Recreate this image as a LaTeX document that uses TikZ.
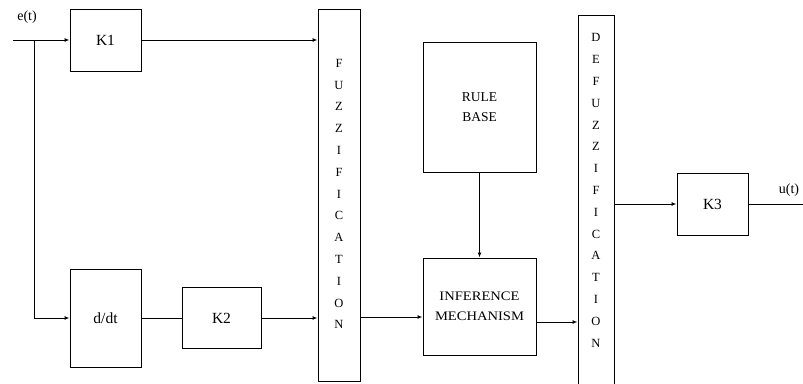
\documentclass[tikz,border=0pt]{standalone}
\usepackage{fontspec}
\setmainfont{Liberation Serif}
\usetikzlibrary{arrows.meta}
\tikzset{
  blk/.style={draw, line width=1pt, inner sep=0pt},
  arr/.style={line width=1pt, -{Latex[length=5pt,width=4pt]}},
  ln/.style={line width=1pt},
  vtxt/.style={align=center, font=\fontsize{12.5}{21.8}\selectfont, inner sep=0pt},
  lbl/.style={font=\fontsize{14}{16}\selectfont, inner sep=0pt},
  klbl/.style={font=\fontsize{15.5}{17}\selectfont}
}
\begin{document}
\begin{tikzpicture}[x=1pt,y=-1pt]
\useasboundingbox[fill=white] (0,0) rectangle (803,383);
% blocks
\node[blk, klbl, minimum width=71pt, minimum height=62pt] (k1) at (105.5,40) {K1};
\node[blk, klbl, minimum width=71pt, minimum height=98pt] (ddt) at (105.5,318) {d/dt};
\node[blk, klbl, minimum width=79pt, minimum height=61pt] (k2) at (221.5,318) {K2};
\node[blk, minimum width=42pt, minimum height=372pt] (fuz) at (339,195) {};
\node[vtxt] (fuztxt) at (339,194) {F\\U\\Z\\Z\\I\\F\\I\\C\\A\\T\\I\\O\\N};
\node[blk, minimum width=113pt, minimum height=130pt, align=center, font=\fontsize{13.5}{20}\selectfont] (rb) at (479.5,107) {RULE\\BASE};
\node[blk, minimum width=113pt, minimum height=97pt, align=center, font=\fontsize{13}{20}\selectfont] (inf) at (479.5,306.5) {\scalebox{1.12}[1]{INFERENCE}\\\scalebox{1.12}[1]{MECHANISM}};
\node[blk, minimum width=36pt, minimum height=385pt] (dfz) at (596,207.5) {};
\node[vtxt] (dfztxt) at (596,190.5) {D\\E\\F\\U\\Z\\Z\\I\\F\\I\\C\\A\\T\\I\\O\\N};
\node[blk, klbl, minimum width=71pt, minimum height=62pt] (k3) at (712.5,204) {K3};
% labels
\node[lbl] (et) at (27,17) {e(t)};
\node[lbl] (ut) at (789,190) {u(t)};
% connectors
\coordinate (in) at (13,40);
\coordinate (j) at (34,40);
\coordinate (out) at (803,204);
\draw[arr] (in) -- (k1.west);
\draw[arr] (j) |- (ddt.west);
\draw[arr] (k1.east) -- (k1.east -| fuz.west);
\draw[ln] (ddt.east) -- (k2.west);
\draw[arr] (k2.east) -- (k2.east -| fuz.west);
\draw[arr] ([yshift=1pt]k2.east -| fuz.east) -- ([yshift=1pt]k2.east -| inf.west);
\draw[arr] (rb.south) -- (inf.north);
\draw[arr] ([yshift=-15.5pt]inf.east) -- ([yshift=-15.5pt]inf.east -| dfz.west);
\draw[arr] (k3.west -| dfz.east) -- (k3.west);
\draw[ln] (k3.east) -- (out);
\end{tikzpicture}
\end{document}
